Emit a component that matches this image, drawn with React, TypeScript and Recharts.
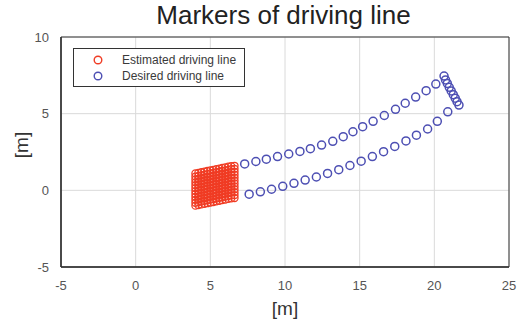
import React from "react";
import {
  CartesianGrid,
  ReferenceArea,
  Scatter,
  ScatterChart,
  XAxis,
  YAxis,
} from "recharts";

// desired driving line: upper edge, end segment, lower edge
const upperX = [7.3, 8.05, 8.75, 9.5, 10.25, 11.0, 11.7, 12.45, 13.2, 13.9, 14.55, 15.2, 15.9, 16.65, 17.4, 18.05, 18.75, 19.45, 20.1];
const upperY = [1.72, 1.88, 2.03, 2.2, 2.37, 2.54, 2.72, 2.95, 3.2, 3.5, 3.82, 4.15, 4.5, 4.88, 5.28, 5.68, 6.08, 6.5, 6.93];
const endX = [20.65, 20.75, 20.87, 21.0, 21.13, 21.27, 21.4, 21.52, 21.65];
const endY = [7.45, 7.2, 6.97, 6.72, 6.48, 6.24, 6.01, 5.78, 5.56];
const lowerX = [7.6, 8.35, 9.1, 9.85, 10.6, 11.35, 12.1, 12.85, 13.6, 14.35, 15.1, 15.85, 16.6, 17.35, 18.1, 18.8, 19.55, 20.2, 20.9];
const lowerY = [-0.25, -0.1, 0.07, 0.26, 0.46, 0.67, 0.87, 1.1, 1.35, 1.62, 1.9, 2.2, 2.52, 2.86, 3.22, 3.6, 4.0, 4.5, 5.12];

// estimated driving line: dense block of markers near the start
const estColsX = [4.0, 4.2, 4.4, 4.6, 4.8, 5.0, 5.2, 5.4, 5.6, 5.8, 6.0, 6.2, 6.4, 6.62];
const estColsBottom = [-1.0, -0.96, -0.92, -0.88, -0.84, -0.8, -0.76, -0.72, -0.68, -0.64, -0.6, -0.56, -0.52, -0.5];
const estRowOffsets = [0, 0.19, 0.38, 0.57, 0.76, 0.95, 1.14, 1.33, 1.52, 1.71, 1.9, 2.1];

const xTicks = [-5, 0, 5, 10, 15, 20, 25];
const yTicks = [-5, 0, 5, 10];

const RED = "#f03c24";
const BLUE = "#4d4fb3";
const FONT = "'Liberation Sans', Arial, Helvetica, sans-serif";

const desired = [
  ...upperX.map((x, i) => ({ x, y: upperY[i] })),
  ...endX.map((x, i) => ({ x, y: endY[i] })),
  ...lowerX.map((x, i) => ({ x, y: lowerY[i] })),
];

const estimated = estColsX.flatMap((x, c) =>
  estRowOffsets.map((off) => ({ x, y: estColsBottom[c] + off }))
);

const ring = (color: string, r: number, w: number) => (props: any) => (
  <circle cx={props.cx} cy={props.cy} r={r} fill="none" stroke={color} strokeWidth={w} />
);

export default function App() {
  return (
    <div style={{ position: "absolute", left: 0, top: 0, width: 523, height: 326, background: "#fff", fontFamily: FONT }}>
      <ScatterChart width={523} height={326} margin={{ top: 37, right: 14, bottom: 29, left: 21 }}>
        <CartesianGrid stroke="#dadada" strokeWidth={1} />
        <XAxis
          type="number"
          dataKey="x"
          domain={[-5, 25]}
          ticks={xTicks}
          height={30}
          tickLine={false}
          axisLine={{ stroke: "#333", strokeWidth: 1.5 }}
          tickMargin={8}
          tick={{ fontSize: 13, fill: "#555", fontFamily: FONT }}
          label={{
            content: () => (
              <text x={285} y={315} textAnchor="middle" fontSize={19} fill="#333" fontFamily={FONT}>
                [m]
              </text>
            ),
          }}
        />
        <YAxis
          type="number"
          dataKey="y"
          domain={[-5, 10]}
          ticks={yTicks}
          width={40}
          tickLine={false}
          axisLine={{ stroke: "#333", strokeWidth: 1.5 }}
          tickMargin={6}
          tick={{ fontSize: 13, fill: "#555", fontFamily: FONT }}
          label={{
            content: () => (
              <text
                x={28}
                y={145}
                textAnchor="middle"
                fontSize={19}
                fill="#333"
                fontFamily={FONT}
                transform="rotate(-90 28 145)"
              >
                [m]
              </text>
            ),
          }}
        />
        <ReferenceArea x1={-5} x2={25} y1={-5} y2={10} fill="none" stroke="#333" strokeWidth={1} />
        <Scatter data={desired} shape={ring(BLUE, 4, 1.5)} isAnimationActive={false} />
        <Scatter data={estimated} shape={ring(RED, 3.5, 1.3)} isAnimationActive={false} />
      </ScatterChart>
      <div
        style={{
          position: "absolute",
          left: 22,
          top: 0,
          width: 523,
          textAlign: "center",
          fontSize: 26,
          color: "#222",
          lineHeight: "30px",
        }}
      >
        Markers of driving line
      </div>
      <div
        style={{
          position: "absolute",
          left: 73,
          top: 48,
          width: 170,
          height: 37,
          border: "1px solid #333",
          background: "#fff",
          fontSize: 12,
          color: "#3a3a3a",
        }}
      >
        {[
          { name: "Estimated driving line", color: RED },
          { name: "Desired driving line", color: BLUE },
        ].map((e, i) => (
          <div key={i} style={{ position: "absolute", left: 0, top: 3 + i * 16, height: 16, display: "flex", alignItems: "center" }}>
            <svg width={48} height={16}>
              <circle cx={24} cy={8} r={3.8} fill="none" stroke={e.color} strokeWidth={1.4} />
            </svg>
            <span>{e.name}</span>
          </div>
        ))}
      </div>
    </div>
  );
}
